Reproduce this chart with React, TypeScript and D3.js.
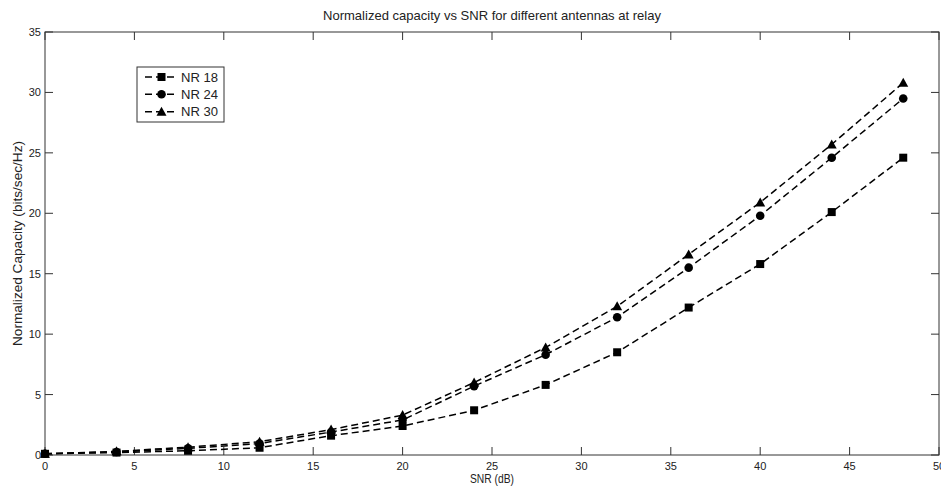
import React from "react";
import * as d3 from "d3";

const snr = [0, 4, 8, 12, 16, 20, 24, 28, 32, 36, 40, 44, 48];
const nr18 = [0.1, 0.2, 0.35, 0.6, 1.6, 2.4, 3.7, 5.8, 8.5, 12.2, 15.8, 20.1, 24.6];
const nr24 = [0.1, 0.25, 0.55, 0.95, 1.9, 2.9, 5.7, 8.3, 11.4, 15.5, 19.8, 24.6, 29.5];
const nr30 = [0.1, 0.3, 0.65, 1.1, 2.1, 3.3, 6.0, 8.9, 12.3, 16.6, 20.9, 25.7, 30.8];
const seriesNames = ["NR 18", "NR 24", "NR 30"];
const xTicks = [0, 5, 10, 15, 20, 25, 30, 35, 40, 45, 50];
const yTicks = [0, 5, 10, 15, 20, 25, 30, 35];

const W = 941, H = 486;
const L = 45, R = 939, T = 32, B = 455;
const FONT = "'Liberation Sans', Arial, sans-serif";

function Marker({ kind, x, y }: { kind: number; x: number; y: number }) {
  if (kind === 0) return <rect x={x - 4} y={y - 4} width={8} height={8} fill="#000" />;
  if (kind === 1) return <circle cx={x} cy={y} r={4.3} fill="#000" />;
  return <path d={`M${x},${y - 5} L${x + 5},${y + 4} L${x - 5},${y + 4} Z`} fill="#000" />;
}

export default function App() {
  const xs = d3.scaleLinear().domain([0, 50]).range([L, R]);
  const ys = d3.scaleLinear().domain([0, 35]).range([B, T]);
  const series = [nr18, nr24, nr30];
  const line = d3.line<number>().x((_, i) => xs(snr[i])).y((d) => ys(d));
  const tick = 8;
  return (
    <svg width={W} height={H} style={{ position: "absolute", left: 0, top: 0, background: "#fff" }} fontFamily={FONT}>
      <rect x={0} y={0} width={W} height={H} fill="#fff" />
      <text x={(L + R) / 2} y={20} fontSize={13} textAnchor="middle" fill="#222"
        textLength={338} lengthAdjust="spacingAndGlyphs">
        Normalized capacity vs SNR for different antennas at relay
      </text>
      {xTicks.map((t) => (
        <g key={"x" + t}>
          <line x1={xs(t)} x2={xs(t)} y1={B} y2={B - tick} stroke="#333" />
          <line x1={xs(t)} x2={xs(t)} y1={T} y2={T + tick} stroke="#333" />
          <text x={xs(t)} y={470} fontSize={11} textAnchor="middle" fill="#222">{t}</text>
        </g>
      ))}
      {yTicks.map((t) => (
        <g key={"y" + t}>
          <line x1={L} x2={L + tick} y1={ys(t)} y2={ys(t)} stroke="#333" />
          <line x1={R} x2={R - tick} y1={ys(t)} y2={ys(t)} stroke="#333" />
          <text x={41} y={ys(t) + 4} fontSize={11} textAnchor="end" fill="#222">{t}</text>
        </g>
      ))}
      <rect x={L} y={T} width={R - L} height={B - T} fill="none" stroke="#333" strokeWidth={1} />
      {series.map((s, k) => (
        <g key={k}>
          <path d={line(s) || ""} fill="none" stroke="#000" strokeWidth={1.5} strokeDasharray="7,4" />
          {s.map((v, i) => (
            <Marker key={i} kind={k} x={xs(snr[i])} y={ys(v)} />
          ))}
        </g>
      ))}
      <text x={(L + R) / 2} y={483} fontSize={13} textAnchor="middle" fill="#222"
        textLength={44} lengthAdjust="spacingAndGlyphs">SNR (dB)</text>
      <text transform={`translate(22,${(T + B) / 2}) rotate(-90)`} fontSize={13} textAnchor="middle" fill="#222"
        textLength={205} lengthAdjust="spacingAndGlyphs">
        Normalized Capacity (bits/sec/Hz)
      </text>
      <rect x={137} y={67} width={87} height={55} fill="#fff" stroke="#333" />
      {seriesNames.map((n, k) => {
        const y = [77, 94.3, 111.7][k];
        return (
          <g key={n}>
            <line x1={145} x2={178} y1={y} y2={y} stroke="#000" strokeWidth={1.5} strokeDasharray="7,4" />
            <Marker kind={k} x={161.5} y={y} />
            <text x={181} y={y + 4.5} fontSize={13} fill="#222" textLength={37} lengthAdjust="spacingAndGlyphs">{n}</text>
          </g>
        );
      })}
    </svg>
  );
}
